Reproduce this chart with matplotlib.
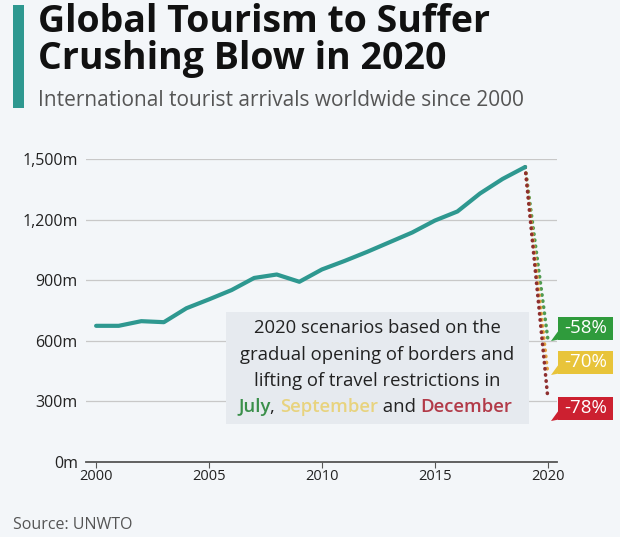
import matplotlib.pyplot as plt
import matplotlib.patches as patches

plt.rcParams['font.family'] = ['Open Sans', 'DejaVu Sans']

years = list(range(2000, 2020))
arrivals = [674, 674, 697, 692, 761, 805, 851, 911, 928, 892,
            953, 995, 1040, 1088, 1136, 1195, 1240, 1329, 1401, 1460]

scenario_names = ["July", "September", "December"]
scenario_drop = [-58, -70, -78]
scenario_values = [613, 438, 321]
scenario_line_colors = ["#4f9a50", "#e0a040", "#8e2f2f"]
scenario_box_colors = ["#2f9b3c", "#e8c43a", "#cc2030"]
scenario_text_colors = ["#3a8f4a", "#e8d37e", "#b23a48"]

yticks = [0, 300, 600, 900, 1200, 1500]
xticks = [2000, 2005, 2010, 2015, 2020]

bg = "#f3f6f9"
teal = "#2e9890"


def fx(px):
    return px / 620


def fy(py):
    return 1 - py / 537


fig = plt.figure(figsize=(6.2, 5.37), dpi=100)
fig.patch.set_facecolor(bg)
ax = fig.add_axes([0.139, 0.1397, 0.759, 0.5643])
ax.set_facecolor(bg)

ax.plot(years, arrivals, color=teal, lw=3, solid_capstyle='round', zorder=4)
for v, c in zip(scenario_values, scenario_line_colors):
    ax.plot([years[-1], 2020], [arrivals[-1], v], color=c, lw=2.6,
            linestyle=(0, (0.1, 1.6)), dash_capstyle='round', zorder=3)

ax.set_xlim(1999.56, 2020.4)
ax.set_ylim(0, 1500)
ax.set_yticks(yticks)
ax.set_yticklabels([f"{t:,}m" for t in yticks])
ax.set_xticks(xticks)
ax.grid(axis='y', color='#c8c8c8', lw=0.9)
ax.set_axisbelow(True)
for s in ['top', 'right', 'left']:
    ax.spines[s].set_visible(False)
ax.spines['bottom'].set_color('#555555')
ax.spines['bottom'].set_linewidth(1.3)
ax.spines['bottom'].set_zorder(5)
ax.tick_params(axis='y', length=0, labelsize=11.5, colors='#222222', pad=6)
ax.tick_params(axis='x', length=4, labelsize=10.5, colors='#222222', pad=1,
               color='#555555')

# scenario labels
label_y = [328, 362, 408]
for d, c, yy in zip(scenario_drop, scenario_box_colors, label_y):
    fig.patches.append(patches.Rectangle((fx(558), fy(yy + 11.5)), fx(55), 23 / 537,
                                         transform=fig.transFigure, fc=c, ec='none',
                                         figure=fig))
    fig.patches.append(patches.Polygon(
        [(fx(559), fy(yy + 2)), (fx(559), fy(yy + 11.5)), (fx(551), fy(yy + 13))],
        closed=True, transform=fig.transFigure, fc=c, ec='none', figure=fig))
    fig.text(fx(586), fy(yy), f"{d}%", ha='center', va='center',
             color='white', fontsize=13.5)

# annotation box
box = patches.Rectangle((fx(226), fy(424)), fx(303), 112 / 537,
                        transform=fig.transFigure, fc='#e6eaef', ec='none',
                        zorder=2, figure=fig)
ax.add_artist(box)
box.set_transform(fig.transFigure)
note_lines = ["2020 scenarios based on the",
              "gradual opening of borders and",
              "lifting of travel restrictions in"]
for i, line in enumerate(note_lines):
    fig.text(fx(377), fy(328 + i * 26.5), line, ha='center',
             va='center', fontsize=13.3, color='#222222')
parts = [("July", scenario_text_colors[0], 'semibold'), (", ", '#222222', 'normal'),
         ("September", scenario_text_colors[1], 'semibold'), (" and ", '#222222', 'normal'),
         ("December", scenario_text_colors[2], 'semibold')]
renderer = fig.canvas.get_renderer()
xpos = 238
for s, c, w in parts:
    t = fig.text(fx(xpos), fy(407.5), s, ha='left', va='center',
                 fontsize=13.3, color=c, fontweight=w)
    xpos += t.get_window_extent(renderer).width

# title area
fig.patches.append(patches.Rectangle((fx(13), fy(108)), fx(11), 103 / 537,
                                     transform=fig.transFigure, fc=teal, ec='none',
                                     figure=fig))
fig.text(fx(38), fy(22), "Global Tourism to Suffer", fontsize=27,
         fontweight='bold', color='#111111', va='center', ha='left')
fig.text(fx(38), fy(59), "Crushing Blow in 2020", fontsize=27,
         fontweight='bold', color='#111111', va='center', ha='left')
fig.text(fx(38), fy(101), "International tourist arrivals worldwide since 2000",
         fontsize=15, color='#555555', va='center', ha='left')
fig.text(fx(13), fy(525), "Source: UNWTO", fontsize=11.5, color='#555555',
         va='center', ha='left')

fig.savefig("out.png", dpi=100, facecolor=bg)
